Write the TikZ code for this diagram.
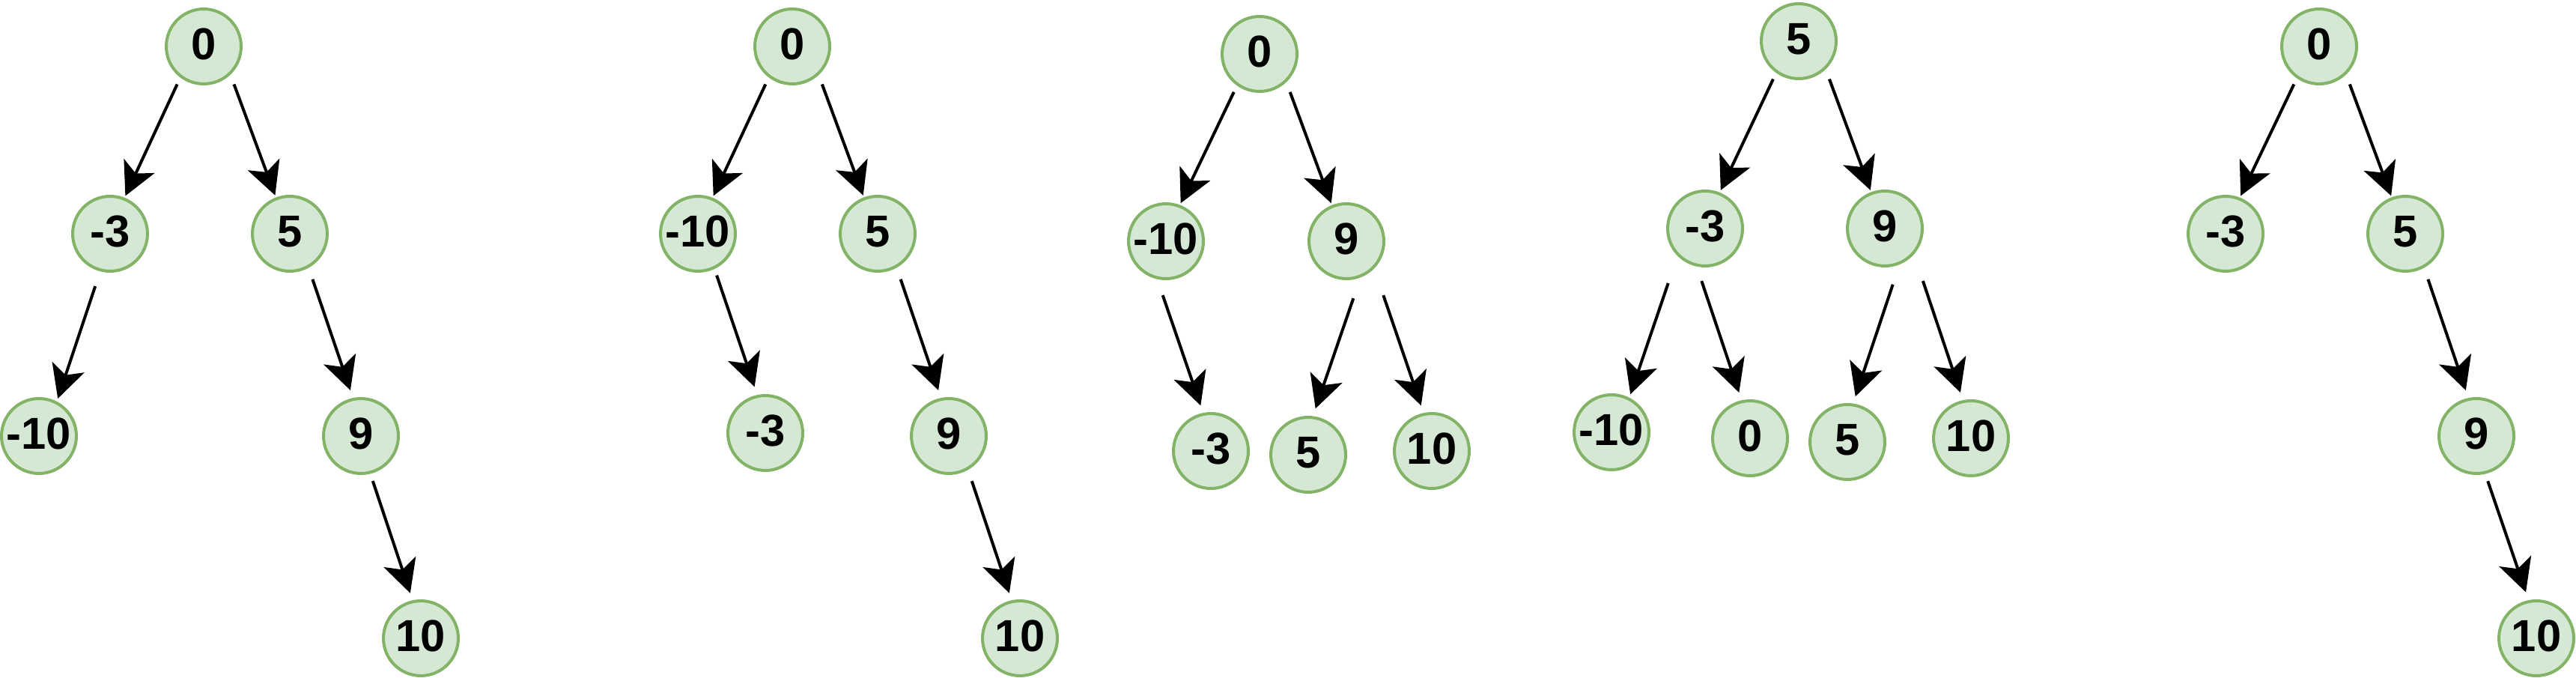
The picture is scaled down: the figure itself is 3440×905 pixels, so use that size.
\documentclass[tikz,border=0pt]{standalone}
\usepackage{fontspec}
\setmainfont{Liberation Sans}
\usetikzlibrary{shapes.geometric,arrows.meta,calc}
\definecolor{nodefill}{HTML}{D5E8D4}
\definecolor{nodeline}{HTML}{82B366}
\newcommand{\lbl}[1]{\makebox[0pt]{#1}}
\begin{document}
\begin{tikzpicture}[x=0.02cm,y=-0.02cm,
  bnode/.style={ellipse, draw=nodeline, fill=nodefill, line width=0.08cm,
    minimum width=2.0cm, minimum height=2.0cm, inner sep=0pt, text depth=0.12cm,
    font=\fontsize{34}{40}\selectfont\bfseries},
  arr/.style={line width=0.08cm, -{Stealth[length=0.88cm,width=0.9cm,inset=0.22cm]}}]
\useasboundingbox (0,0) rectangle (3440,905);

% Tree 1
\node[bnode] (a0) at (272,62) {\lbl{0}};
\node[bnode] (am3) at (147,312) {\lbl{-3}};
\node[bnode] (a5) at (387,312) {\lbl{5}};
\node[bnode] (am10) at (52,582) {\lbl{-10}};
\node[bnode] (a9) at (482,582) {\lbl{9}};
\node[bnode] (a10) at (562,852) {\lbl{10}};
\draw[arr] ($(a0)+(-35.4,50.5)$) -- ($(am3)+(20.4,-50.5)$);
\draw[arr] ($(a0)+(40.5,50.5)$) -- ($(a5)+(-19.6,-51.2)$);
\draw[arr] ($(am3)+(-19.8,70)$) -- ($(am10)+(25.2,-50)$);
\draw[arr] ($(a5)+(30.4,60.8)$) -- ($(a9)+(-14.1,-61)$);
\draw[arr] ($(a9)+(15.8,60)$) -- ($(a10)+(-14.2,-60.3)$);

% Tree 2
\node[bnode] (b0) at (1058,62) {\lbl{0}};
\node[bnode] (bm10) at (932,312) {\lbl{-10}};
\node[bnode] (b5) at (1172,312) {\lbl{5}};
\node[bnode] (bm3) at (1022,578) {\lbl{-3}};
\node[bnode] (b9) at (1267,582) {\lbl{9}};
\node[bnode] (b10) at (1362,852) {\lbl{10}};
\draw[arr] ($(b0)+(-35.7,50.5)$) -- ($(bm10)+(20.7,-50.6)$);
\draw[arr] ($(b0)+(39.8,50.5)$) -- ($(b5)+(-19.3,-51.2)$);
\draw[arr] ($(bm10)+(25.1,55.6)$) -- ($(bm3)+(-14.4,-61.6)$);
\draw[arr] ($(b5)+(30.7,60.8)$) -- ($(b9)+(-13.9,-61)$);
\draw[arr] ($(b9)+(30.8,60.2)$) -- ($(b10)+(-14.2,-60.3)$);

% Tree 3
\node[bnode] (c0) at (1682,72) {\lbl{0}};
\node[bnode] (cm10) at (1557,322) {\lbl{-10}};
\node[bnode] (c9) at (1798,322) {\lbl{9}};
\node[bnode] (cm3) at (1617,602) {\lbl{-3}};
\node[bnode] (c5) at (1747,607) {\lbl{5}};
\node[bnode] (c10) at (1912,602) {\lbl{10}};
\draw[arr] ($(c0)+(-34.3,50.9)$) -- ($(cm10)+(19.7,-50.8)$);
\draw[arr] ($(c0)+(40.7,50.9)$) -- ($(c9)+(-20.3,-50.8)$);
\draw[arr] ($(cm10)+(-4.3,72.1)$) -- ($(cm3)+(-13.7,-60.7)$);
\draw[arr] ($(c9)+(9.3,76.2)$) -- ($(c5)+(9.7,-61.6)$);
\draw[arr] ($(c9)+(49.3,72.1)$) -- ($(c10)+(-14.3,-60.7)$);

% Tree 4
\node[bnode] (d5) at (2402,55) {\lbl{5}};
\node[bnode] (dm3) at (2277,305) {\lbl{-3}};
\node[bnode] (d9) at (2517,305) {\lbl{9}};
\node[bnode] (dm10) at (2152,577) {\lbl{-10}};
\node[bnode] (d0) at (2337,585) {\lbl{0}};
\node[bnode] (d5b) at (2467,590) {\lbl{5}};
\node[bnode] (d10) at (2632,585) {\lbl{10}};
\draw[arr] ($(d5)+(-34.1,50.6)$) -- ($(dm3)+(20.8,-51.1)$);
\draw[arr] ($(d5)+(40.9,50.6)$) -- ($(d9)+(-19.2,-51.1)$);
\draw[arr] ($(dm3)+(-49.3,73)$) -- ($(dm10)+(25.2,-50.7)$);
\draw[arr] ($(dm3)+(-4.7,70.1)$) -- ($(d0)+(-14.7,-61)$);
\draw[arr] ($(d9)+(10.7,74.7)$) -- ($(d5b)+(10.7,-60.8)$);
\draw[arr] ($(d9)+(50.9,70.1)$) -- ($(d10)+(-14.1,-61)$);

% Tree 5
\node[bnode] (e0) at (3097,62) {\lbl{0}};
\node[bnode] (em3) at (2972,312) {\lbl{-3}};
\node[bnode] (e5) at (3212,312) {\lbl{5}};
\node[bnode] (e9) at (3307,582) {\lbl{9}};
\node[bnode] (e10) at (3387,852) {\lbl{10}};
\draw[arr] ($(e0)+(-33.7,50.5)$) -- ($(em3)+(20.2,-50.6)$);
\draw[arr] ($(e0)+(40.8,50.5)$) -- ($(e5)+(-18.9,-50.6)$);
\draw[arr] ($(e5)+(30.4,60.8)$) -- ($(e9)+(-14.2,-61)$);
\draw[arr] ($(e9)+(15.2,60.2)$) -- ($(e10)+(-14,-61.5)$);
\end{tikzpicture}
\end{document}
